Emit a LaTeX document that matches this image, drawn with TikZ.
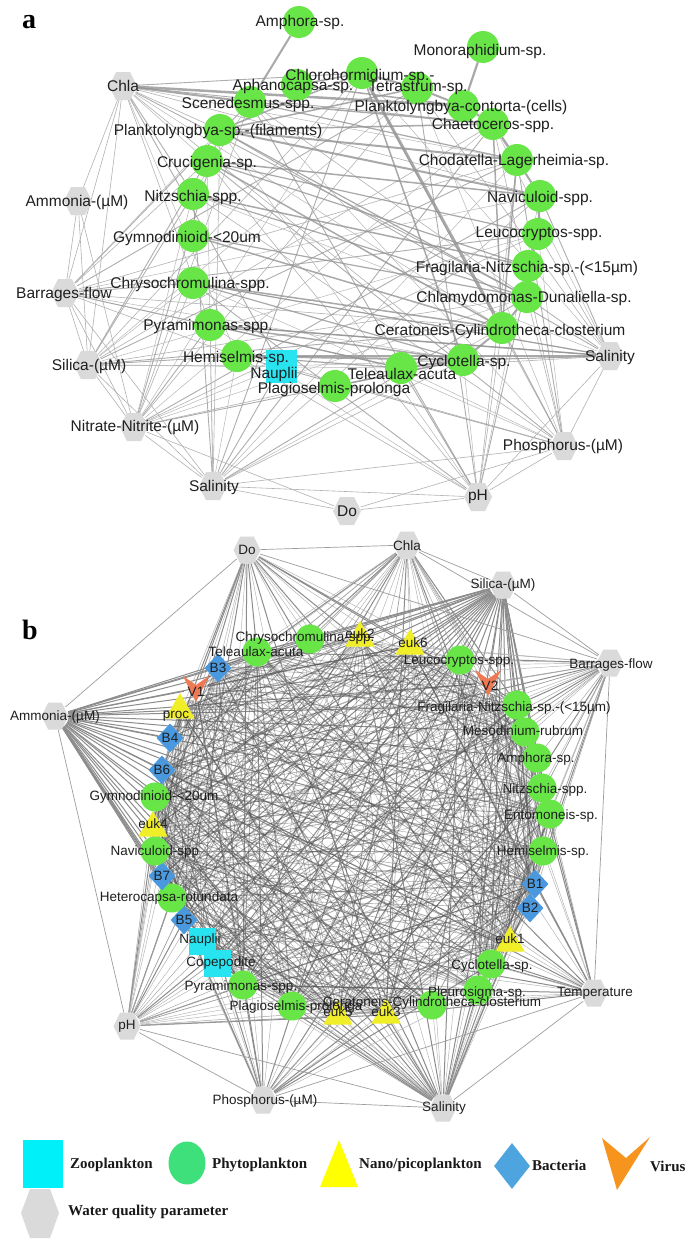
\documentclass[tikz,border=0pt]{standalone}
\usepackage{fontspec}
\setmainfont{Liberation Sans}
\newfontfamily\legserif{Liberation Serif}
\usetikzlibrary{shapes.geometric}
\pgfdeclarelayer{bg}
\pgfdeclarelayer{fg}
\pgfsetlayers{bg,main,fg}
\definecolor{phyg}{RGB}{104,230,72}
\definecolor{zooc}{RGB}{40,228,240}
\definecolor{nanoy}{RGB}{240,238,40}
\definecolor{bactb}{RGB}{74,152,222}
\definecolor{virc}{RGB}{238,122,84}
\definecolor{hexg}{RGB}{218,218,218}
\definecolor{phyL}{RGB}{62,224,124}
\definecolor{zooL}{RGB}{0,240,250}
\definecolor{nanoL}{RGB}{255,255,0}
\definecolor{bactL}{RGB}{78,164,222}
\definecolor{virL}{RGB}{247,148,29}
\newcommand\Nd[5]{\node[#1] (#2) at (#3) {};\begin{pgfonlayer}{fg}\node[lbl] (#2-l) at (#4) {#5};\end{pgfonlayer}}
\newcommand\Hx[6]{\node[circle,minimum size={2*#5pt}] (#1) at (#2) {};\fill[hexg,shift={(#2)}] (-#5,0) -- (-#5/2,-#6) -- (#5/2,-#6) -- (#5,0) -- (#5/2,#6) -- (-#5/2,#6) -- cycle;\begin{pgfonlayer}{fg}\node[lbl] (#1-l) at (#3) {#4};\end{pgfonlayer}}
\newcommand\Vr[4]{\node[circle,minimum size=24pt] (#1) at (#2) {};\fill[virc,shift={(#2)}] (-13,-13) -- (0,-4) -- (13,-13) -- (0,13) -- cycle;\begin{pgfonlayer}{fg}\node[lbl] (#1-l) at (#3) {#4};\end{pgfonlayer}}
\tikzset{
 every node/.style={inner sep=0pt},
 phyA/.style={circle,fill=phyg,minimum size=32pt},
 phyB/.style={circle,fill=phyg,minimum size=29pt},
 zooA/.style={rectangle,fill=zooc,minimum width=31pt,minimum height=33pt},
 zooB/.style={rectangle,fill=zooc,minimum size=27pt},
 nano/.style={regular polygon,regular polygon sides=3,fill=nanoy,minimum size=34pt},
 bact/.style={diamond,fill=bactb,minimum width=27pt,minimum height=29pt},
 lblA/.style={font=\fontsize{15.5}{15.5}\selectfont,text=black!88},
 lblB/.style={font=\fontsize{13.5}{13.5}\selectfont,text=black!88},
 leg/.style={anchor=west,font=\legserif\bfseries\fontsize{15}{15}\selectfont,text=black!90},
 pnl/.style={font=\legserif\bfseries\fontsize{28}{28}\selectfont},
 ea0/.style={draw=black!40,line width=0.9pt,draw opacity=0.8},
 ea1/.style={draw=black!28,line width=0.5pt},
 ea2/.style={draw=black!30,line width=0.6pt},
 ib0/.style={draw=black!70,line width=0.5pt,draw opacity=0.45},
 ib1/.style={draw=black!70,line width=0.6pt,draw opacity=0.45},
 ib2/.style={draw=black!70,line width=0.9pt,draw opacity=0.45},
 ib3/.style={draw=black!70,line width=1.2pt,draw opacity=0.45},
 ib4/.style={draw=black!70,line width=0.7pt,draw opacity=0.4},
 pe0/.style={draw=black!30,line width=0.45pt},
 pe1/.style={draw=black!30,line width=0.45pt},
 pe2/.style={draw=black!38,line width=0.7pt},
 pe3/.style={draw=black!45,line width=1.0pt},
 pe4/.style={draw=black!35,line width=0.5pt},
}
\begin{document}
\begin{tikzpicture}[x=1pt,y=-1pt]
\useasboundingbox (0,0) rectangle (685,1242);
\begin{pgfonlayer}{bg}\fill[white] (0,0) rectangle (685,1242);\end{pgfonlayer}
% ---------------- panel a ----------------
\node[pnl] (la) at (29,22) {a};
\begin{scope}[lbl/.style=lblA]
\Hx{qa1}{123,86}{123,86}{Chla}{14}{14}
\Hx{qa2}{78,201}{77,202}{Ammonia-(µM)}{14}{14}
\Hx{qa3}{65,293}{64,294}{Barrages-flow}{14}{14}
\Hx{qa4}{88,365}{89,366}{Silica-(µM)}{14}{14}
\Hx{qa5}{134,427}{135,427}{Nitrate-Nitrite-(µM)}{14}{14}
\Hx{qa6}{213,486}{214,487}{Salinity}{14}{14}
\Hx{qa7}{347,511}{347,511}{Do}{14}{14}
\Hx{qa8}{478,497}{478,497}{pH}{14}{14}
\Hx{qa9}{564,446}{563,446}{Phosphorus-(µM)}{14}{14}
\Hx{qa10}{610,356}{610,357}{Salinity}{14}{14}
\Nd{phyA}{pa1}{299,22}{300,22}{Amphora-sp.}
\Nd{phyA}{pa2}{362,73}{360,76}{Chlorohormidium-sp.-}
\Nd{phyA}{pa3}{297,85}{293,86}{Aphanocapsa-sp.}
\Nd{phyA}{pa4}{250,102}{248,104}{Scenedesmus-spp.}
\Nd{phyA}{pa5}{220,130}{218,131}{Planktolyngbya-sp.-(filaments)}
\Nd{phyA}{pa6}{207,161}{207,163}{Crucigenia-sp.}
\Nd{phyA}{pa7}{193,194}{193,197}{Nitzschia-spp.}
\Nd{phyA}{pa8}{193,236}{187,238}{Gymnodinioid-<20um}
\Nd{phyA}{pa9}{193,283}{190,284}{Chrysochromulina-spp.}
\Nd{phyA}{pa10}{210,325}{208,326}{Pyramimonas-spp.}
\Nd{phyA}{pa11}{237,356}{236,358}{Hemiselmis-sp.}
\Nd{zooA}{pa12}{281,366}{274,374}{Nauplii}
\Nd{phyA}{pa13}{335,386}{334,389}{Plagioselmis-prolonga}
\Nd{phyA}{pa14}{401,368}{402,374}{Teleaulax-acuta}
\Nd{phyA}{pa15}{463,360}{464,362}{Cyclotella-sp.}
\Nd{phyA}{pa16}{502,328}{500,331}{Ceratoneis-Cylindrotheca-closterium}
\Nd{phyA}{pa17}{527,297}{524,298}{Chlamydomonas-Dunaliella-sp.}
\Nd{phyA}{pa18}{528,266}{527,268}{Fragilaria-Nitzschia-sp.-(<15µm)}
\Nd{phyA}{pa19}{538,234}{539,234}{Leucocryptos-spp.}
\Nd{phyA}{pa20}{540,196}{540,198}{Naviculoid-spp.}
\Nd{phyA}{pa21}{517,160}{514,161}{Chodatella-Lagerheimia-sp.}
\Nd{phyA}{pa22}{493,124}{493,125}{Chaetoceros-spp.}
\Nd{phyA}{pa23}{463,106}{461,107}{Planktolyngbya-contorta-(cells)}
\Nd{phyA}{pa24}{417,88}{418,88}{Tetrastrum-sp.}
\Nd{phyA}{pa25}{483,47}{480,51}{Monoraphidium-sp.}
\end{scope}
\begin{pgfonlayer}{bg}
\foreach \p in {1,...,10}{\foreach \i in {2,...,24}{
  \pgfmathtruncatemacro\h{mod(\p*\i+2*\p+3*\i,5)}
  \ifnum\h<3 \draw[ea\h] (qa\p) -- (pa\i);\fi }}
\foreach \u/\v in {qa1/qa2,qa1/qa3,qa1/qa4,qa2/qa3,qa2/qa4,qa2/qa5,qa3/qa4,qa3/qa6,qa4/qa5,qa4/qa6,qa5/qa6,qa6/qa7,qa6/qa8,qa7/qa8,qa8/qa9,qa9/qa10,qa6/qa9,qa5/qa7,qa7/qa9,qa8/qa10,qa3/qa5}
  {\draw[ea2] (\u) -- (\v);}
\foreach \u/\v/\w in {pa1/pa4/2,pa25/pa23/2.2,pa2/pa16/3,qa1/pa23/2.5,qa1/pa4/2,pa4/pa22/1.5,pa5/pa21/2,pa5/pa20/2,pa5/pa22/1.5,pa3/pa23/1.5,pa6/pa20/1.5,pa6/pa16/1.5,pa6/pa19/1.2,pa7/pa18/1.5,pa7/pa17/1.2,pa8/pa16/1.5,pa8/pa17/1.2,pa9/pa16/1.5,pa9/pa15/1.2,pa10/pa15/1.5,pa10/pa14/1.2,pa11/pa14/1.2,pa11/pa15/2,pa11/qa10/2,pa13/pa15/1.5,pa14/pa15/2,pa15/pa16/2,pa16/pa17/2,pa17/pa18/2,pa18/pa19/2,pa19/pa20/2,pa20/pa21/2,pa21/pa22/2.5,pa22/pa23/2.5,pa23/pa24/2,pa24/pa2/2,pa2/pa3/1.5,pa22/pa16/1.5,pa21/pa16/1.5,pa24/pa5/1.5,pa2/pa5/1.5,pa2/pa15/1.5,pa4/pa21/1.2,pa5/pa17/1.2,pa6/pa18/1.2,pa10/qa10/1.5,pa9/qa10/1.2}
  {\draw[draw=black!42,draw opacity=0.8,line width=\w pt] (\u) -- (\v);}
\end{pgfonlayer}
% ---------------- panel b ----------------
\node[pnl] (lb) at (30,630) {b};
\begin{scope}[lbl/.style=lblB]
\Hx{qb1}{247,550}{247,550}{Do}{13.5}{13.5}
\Hx{qb2}{407,545}{407,546}{Chla}{13.5}{13.5}
\Hx{qb3}{503,585}{503,585}{Silica-(µM)}{13.5}{13.5}
\Hx{qb4}{610,663}{611,665}{Barrages-flow}{13.5}{13.5}
\Hx{qb5}{594,993}{595,993}{Temperature}{13.5}{13.5}
\Hx{qb6}{443,1108}{444,1108}{Salinity}{13.5}{13.5}
\Hx{qb7}{263,1100}{265,1101}{Phosphorus-(µM)}{13.5}{13.5}
\Hx{qb8}{127,1026}{127,1026}{pH}{13.5}{13.5}
\Hx{qb9}{55,716}{55,717}{Ammonia-(µM)}{13.5}{13.5}
\Nd{phyB}{pb1}{257,652}{256,652}{Teleaulax-acuta}
\Nd{phyB}{pb2}{310,639}{305,638}{Chrysochromulina-spp.}
\Nd{nano}{pb3}{360,638}{360,634}{euk2}
\Nd{nano}{pb4}{410,646}{413,643}{euk6}
\Nd{phyB}{pb5}{460,660}{459,661}{Leucocryptos-spp.}
\Vr{pb6}{488,683}{490,686}{V2}
\Nd{phyB}{pb7}{517,705}{514,708}{Fragilaria-Nitzschia-sp.-(<15µm)}
\Nd{phyB}{pb8}{525,732}{523,731}{Mesodinium-rubrum}
\Nd{phyB}{pb9}{537,758}{536,759}{Amphora-sp.}
\Nd{phyB}{pb10}{542,788}{545,790}{Nitzschia-spp.}
\Nd{phyB}{pb11}{550,814}{551,816}{Entomoneis-sp.}
\Nd{phyB}{pb12}{543,851}{543,852}{Hemiselmis-sp.}
\Nd{bact}{pb13}{535,884}{535,884}{B1}
\Nd{bact}{pb14}{530,908}{530,908}{B2}
\Nd{nano}{pb15}{510,943}{510,939}{euk1}
\Nd{phyB}{pb16}{491,964}{492,966}{Cyclotella-sp.}
\Nd{phyB}{pb17}{478,990}{477,993}{Pleurosigma-sp.}
\Nd{phyB}{pb18}{432,1005}{432,1003}{Ceratoneis-Cylindrotheca-closterium}
\Nd{nano}{pb19}{386,1015}{386,1012}{euk3}
\Nd{nano}{pb20}{338,1016}{338,1012}{euk5}
\Nd{phyB}{pb21}{292,1006}{296,1007}{Plagioselmis-prolonga}
\Nd{phyB}{pb22}{243,985}{241,987}{Pyramimonas-spp.}
\Nd{zooB}{pb23}{217,963}{221,963}{Copepodite}
\Nd{zooB}{pb24}{202,941}{200,940}{Nauplii}
\Nd{bact}{pb25}{184,920}{184,920}{B5}
\Nd{phyB}{pb26}{172,898}{169,898}{Heterocapsa-rotundata}
\Nd{bact}{pb27}{162,876}{162,876}{B7}
\Nd{phyB}{pb28}{155,851}{155,852}{Naviculoid-spp}
\Nd{nano}{pb29}{153,828}{153,824}{euk4}
\Nd{phyB}{pb30}{155,797}{154,797}{Gymnodinioid-<20um}
\Nd{bact}{pb31}{162,770}{162,770}{B6}
\Nd{bact}{pb32}{170,738}{170,738}{B4}
\Nd{nano}{pb33}{180,710}{176,716}{proc}
\Vr{pb34}{196,689}{196,692}{V1}
\Nd{bact}{pb35}{218,668}{218,668}{B3}
\end{scope}
\begin{pgfonlayer}{bg}
\foreach \p in {1,...,9}{\foreach \i in {1,...,35}{
  \pgfmathtruncatemacro\h{mod(\p*11+\i*\p+\i*3,6)}
  \ifnum\h<5 \draw[pe\h] (qb\p) -- (pb\i);\fi }}
\foreach \u/\v in {qb1/qb2,qb1/qb9,qb2/qb4,qb3/qb4,qb2/qb3,qb4/qb5,qb5/qb6,qb6/qb7,qb7/qb8,qb8/qb6,qb9/qb8,qb7/qb5,qb1/qb4}
  {\draw[pe2] (\u) -- (\v);}
\foreach \i in {1,...,34}{
  \pgfmathtruncatemacro\s{\i+1}
  \foreach \j in {\s,...,35}{
    \pgfmathtruncatemacro\h{mod(\i*\j+3*\i+5*\j,7)}
    \ifnum\h<5 \draw[ib\h] (pb\i) -- (pb\j);\fi }}
\end{pgfonlayer}
% ---------------- legend ----------------
\node[rectangle,fill=zooL,minimum width=40pt,minimum height=48pt] (lg1) at (43,1164) {};
\node[leg] (lg1-l) at (70,1165) {Zooplankton};
\node[ellipse,fill=phyL,minimum width=37pt,minimum height=43pt] (lg2) at (187,1163) {};
\node[leg] (lg2-l) at (212,1165) {Phytoplankton};
\node[circle,minimum size=30pt] (lg3) at (339,1164) {};
\fill[nanoL] (320,1187) -- (358,1187) -- (339,1140) -- cycle;
\node[leg] (lg3-l) at (359,1165) {Nano/picoplankton};
\node[diamond,fill=bactL,minimum width=36pt,minimum height=46pt] (lg4) at (512,1166) {};
\node[leg] (lg4-l) at (532,1165) {Bacteria};
\node[circle,minimum size=30pt] (lg5) at (626,1160) {};
\fill[virL] (602,1138) -- (626,1158) -- (650,1137) -- (617,1190) -- cycle;
\node[leg] (lg5-l) at (650,1166) {Virus};
\node[circle,minimum size=30pt] (lg6) at (40,1213) {};
\fill[hexg] (21,1213) -- (30,1189) -- (50,1189) -- (59,1213) -- (50,1238) -- (30,1238) -- cycle;
\node[leg] (lg6-l) at (68,1212) {Water quality parameter};
\end{tikzpicture}
\end{document}
